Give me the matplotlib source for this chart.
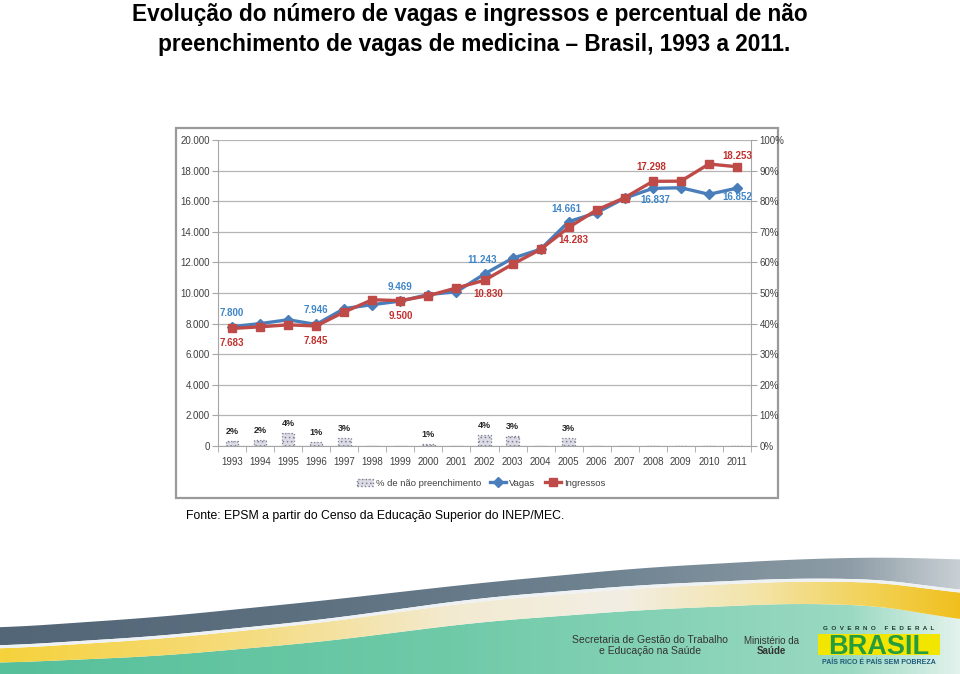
import numpy as np
import matplotlib.pyplot as plt
from matplotlib.patches import Polygon, Rectangle, Patch
from matplotlib.lines import Line2D

plt.rcParams['font.family'] = ['Liberation Sans', 'DejaVu Sans']
plt.rcParams['hatch.color'] = '#9a9aaa'
plt.rcParams['hatch.linewidth'] = 0.6

# dados
anos = [str(a) for a in range(1993, 2012)]
vagas = [7800, 8000, 8250, 7946, 8980, 9240, 9469, 9900, 10080, 11243,
         12270, 12860, 14661, 15250, 16200, 16837, 16880, 16450, 16852]
ingressos = [7683, 7790, 7920, 7845, 8760, 9560, 9500, 9830, 10330, 10830,
             11880, 12850, 14283, 15430, 16230, 17298, 17310, 18430, 18253]
nao_preench = [1.6, 2.0, 4.3, 1.2, 2.6, 0, 0, 0.8, 0, 3.6,
               3.2, 0, 2.6, 0, 0, 0, 0, 0, 0]
rotulos_pct = ['2%', '2%', '4%', '1%', '3%', '', '', '1%', '', '4%',
               '3%', '', '3%', '', '', '', '', '', '']
idx_rotulos = [0, 3, 6, 9, 12, 15, 18]

azul = '#4a7ebb'
vermelho = '#be4b48'

fig = plt.figure(figsize=(9.6, 6.74), dpi=100)

# fundo do slide (pixels)
bg = fig.add_axes([0, 0, 1, 1])
bg.set_xlim(0, 960)
bg.set_ylim(674, 0)
bg.axis('off')

xs = np.linspace(0, 960, 400)
def curva(px, py):
    y = np.interp(xs, px, py)
    k = 41
    yp = np.r_[np.full(k, y[0]), y, np.full(k, y[-1])]
    return np.convolve(yp, np.ones(k) / k, mode='same')[k:-k]

cx = [0, 160, 320, 480, 640, 800, 900, 960]
cinza_topo = curva(cx, [628, 617, 601, 583, 568, 559, 557, 560])
cinza_base = curva(cx, [646, 636, 620, 598, 585, 578, 580, 592])
amarelo_base = curva(cx, [663, 656, 642, 622, 610, 603, 607, 622])

def gradiente(cores_x, cores, topo, base):
    cols = np.array([[int(c[i:i + 2], 16) / 255 for i in (1, 3, 5)] for c in cores])
    img = np.zeros((1, 300, 3))
    gx = np.linspace(0, 960, 300)
    for k in range(3):
        img[0, :, k] = np.interp(gx, cores_x, cols[:, k])
    im = bg.imshow(img, extent=(0, 960, 674, 540), aspect='auto', zorder=1)
    poly = Polygon(np.column_stack([np.r_[xs, xs[::-1]], np.r_[topo, base[::-1]]]),
                   closed=True, facecolor='none', edgecolor='none')
    bg.add_patch(poly)
    im.set_clip_path(poly)

gradiente([0, 450, 850, 960], ['#56c09a', '#6fcaa8', '#9ad9c2', '#e2f2ec'],
          amarelo_base, np.full_like(xs, 675))
gradiente([0, 250, 450, 620, 760, 880, 960],
          ['#f6d23c', '#f5dc80', '#f3ead0', '#f2eee4', '#f4e4a8', '#f2d050', '#f0c020'],
          cinza_base + 3, amarelo_base)
gradiente([0, 300, 600, 850, 960], ['#536677', '#5c7080', '#6e8290', '#8d9ca6', '#c8cfd4'],
          cinza_topo, cinza_base)
bg.fill_between(xs, cinza_base, cinza_base + 3, color='#eef2f4', zorder=2, lw=0)

# moldura do grafico
bg.add_patch(Rectangle((176, 128), 602, 370, facecolor='white',
                       edgecolor='#9a9a9a', lw=1.6, zorder=3))

# titulo
fig.text(470 / 960, 1 - 15 / 674, 'Evolução do número de vagas e ingressos e percentual de não',
         ha='center', va='center', fontsize=16.3, fontweight='bold', color='black')
fig.text(474 / 960, 1 - 45 / 674, 'preenchimento de vagas de medicina \u2013 Brasil, 1993 a 2011.',
         ha='center', va='center', fontsize=16.3, fontweight='bold', color='black')

# grafico principal
ax = fig.add_axes([218 / 960, 1 - 446 / 674, 533 / 960, 306 / 674])
ax2 = ax.twinx()
ax.set_zorder(ax2.get_zorder() + 1)
ax.patch.set_visible(False)

x = np.arange(len(anos))
ax2.bar(x, nao_preench, width=0.45, facecolor='#dcdce6', edgecolor='#7f7f90',
        hatch='....', linestyle=':', lw=0.9)
for i, v in enumerate(nao_preench):
    if rotulos_pct[i]:
        ax2.annotate(rotulos_pct[i], (x[i], v), xytext=(0, 5), textcoords='offset pixels',
                     ha='center', va='bottom', fontsize=6.5, fontweight='bold', color='#262626')
ax2.set_ylim(0, 100)
ax2.set_yticks(range(0, 101, 10))
ax2.set_yticklabels([f'{p}%' for p in range(0, 101, 10)])

ax.plot(x, vagas, color=azul, lw=2.4, marker='D', ms=5, label='Vagas')
ax.plot(x, ingressos, color=vermelho, lw=2.4, marker='s', ms=6, label='Ingressos')

fmt = lambda v: f'{v:,}'.replace(',', '.')
desl_vagas = [(0, 14), (0, 14), (0, 14), (-2, 14), (-2, 13), (2, -12), (0, -9)]
desl_ingr = [(0, -15), (0, -15), (0, -15), (4, -14), (5, -13), (-2, 14), (0, 11)]
for j, i in enumerate(idx_rotulos):
    ax.annotate(fmt(vagas[i]), (x[i], vagas[i]), xytext=desl_vagas[j], textcoords='offset pixels',
                ha='center', va='center', fontsize=7, fontweight='bold', color='#3d85c6')
    ax.annotate(fmt(ingressos[i]), (x[i], ingressos[i]), xytext=desl_ingr[j], textcoords='offset pixels',
                ha='center', va='center', fontsize=7, fontweight='bold', color='#c0312e')

ax.set_xlim(-0.5, len(anos) - 0.5)
ax.set_ylim(0, 20000)
ax.set_yticks(range(0, 20001, 2000))
ax.set_yticklabels([fmt(v) for v in range(0, 20001, 2000)])
ax.set_xticks(x)
ax.set_xticklabels(anos)
ax.set_xticks(np.arange(-0.5, len(anos), 1), minor=True)
ax.yaxis.grid(True, color='#b5b5b5', lw=0.9)
ax.set_axisbelow(True)

for a in (ax, ax2):
    for s in a.spines.values():
        s.set_visible(False)
ax.spines['left'].set_visible(True)
ax.spines['left'].set_color('#a6a6a6')
ax.spines['bottom'].set_visible(True)
ax.spines['bottom'].set_color('#a6a6a6')
ax2.spines['right'].set_visible(True)
ax2.spines['right'].set_color('#a6a6a6')

ax.tick_params(axis='x', which='major', length=0, pad=8, labelsize=7, labelcolor='#404040')
ax.tick_params(axis='x', which='minor', length=4, color='#a6a6a6')
ax.tick_params(axis='y', length=4, color='#a6a6a6', pad=2, labelsize=7, labelcolor='#404040')
ax2.tick_params(axis='y', length=4, color='#a6a6a6', pad=2, labelsize=7, labelcolor='#404040')

handles = [Patch(facecolor='#dcdce6', edgecolor='#7f7f90', hatch='....', linestyle=':'),
           Line2D([], [], color=azul, lw=2.4, marker='D', ms=5),
           Line2D([], [], color=vermelho, lw=2.4, marker='s', ms=6)]
fig.legend(handles, ['% de não preenchimento', 'Vagas', 'Ingressos'], loc='center',
           bbox_to_anchor=(481 / 960, 1 - 483 / 674), ncol=3, frameon=False, fontsize=6.8,
           handlelength=1.7, handletextpad=0.3, columnspacing=1.0, labelcolor='#404040')

# fonte
fig.text(186 / 960, 1 - 516 / 674, 'Fonte: EPSM a partir do Censo da Educação Superior do INEP/MEC.',
         ha='left', va='center', fontsize=8.8, color='black')

# rodape
bg.text(650, 640, 'Secretaria de Gestão do Trabalho', ha='center', va='center',
        fontsize=7.5, color='#333333', zorder=5)
bg.text(650, 651, 'e Educação na Saúde', ha='center', va='center',
        fontsize=7.5, color='#333333', zorder=5)
bg.text(771, 641, 'Ministério da', ha='center', va='center', fontsize=7, color='#333333', zorder=5)
bg.text(771, 651, 'Saúde', ha='center', va='center', fontsize=7, fontweight='bold',
        color='#333333', zorder=5)
bg.text(879, 629, 'G  O  V  E  R  N  O     F  E  D  E  R  A  L', ha='center', va='center',
        fontsize=4.5, fontweight='bold', color='#1d3b2a', zorder=5)
bg.add_patch(Rectangle((818, 634), 122, 21, facecolor='#f2e600', edgecolor='none', zorder=4))
bg.text(879, 654, 'BRASIL', ha='center', va='baseline', fontsize=19.5, fontweight='bold',
        color='#259c3d', zorder=5)
bg.text(879, 663, 'PAÍS RICO É PAÍS SEM POBREZA', ha='center', va='center',
        fontsize=5, fontweight='bold', color='#1d5a7a', zorder=5)

fig.savefig('out.png', dpi=100)
